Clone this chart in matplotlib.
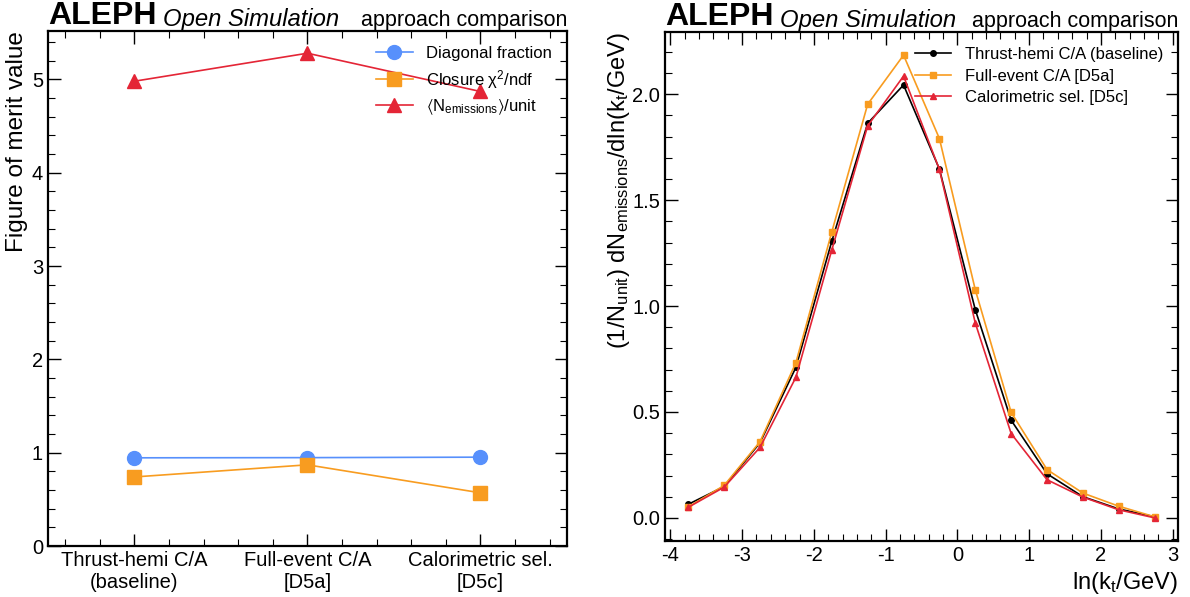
import numpy as np
import matplotlib
matplotlib.use("Agg")
import matplotlib.pyplot as plt
from matplotlib.ticker import MultipleLocator

plt.rcParams['font.family'] = ['Liberation Sans', 'DejaVu Sans']
plt.rcParams['mathtext.fontset'] = 'custom'
plt.rcParams['mathtext.rm'] = 'Liberation Sans'
plt.rcParams['mathtext.it'] = 'Liberation Sans:italic'
plt.rcParams['mathtext.default'] = 'regular'
plt.rcParams['axes.unicode_minus'] = False

# left panel: figures of merit per approach
approaches = ["Thrust-hemi C/A\n(baseline)", "Full-event C/A\n[D5a]", "Calorimetric sel.\n[D5c]"]
diag_frac = [0.945, 0.947, 0.952]
closure_chi2 = [0.74, 0.87, 0.57]
n_emissions = [4.98, 5.28, 4.87]

# right panel: ln(kt) spectra
lnkt = [-3.75, -3.25, -2.75, -2.25, -1.75, -1.25, -0.75, -0.25, 0.25, 0.75, 1.25, 1.75, 2.25, 2.75]
baseline = [0.064, 0.148, 0.355, 0.711, 1.306, 1.863, 2.044, 1.647, 0.983, 0.461, 0.208, 0.100, 0.042, 0.005]
full_event = [0.052, 0.153, 0.360, 0.733, 1.350, 1.953, 2.185, 1.791, 1.077, 0.498, 0.228, 0.117, 0.055, 0.005]
calo_sel = [0.050, 0.145, 0.333, 0.664, 1.265, 1.851, 2.086, 1.645, 0.920, 0.398, 0.180, 0.098, 0.038, 0.000]

BLUE = "#5790fc"
ORANGE = "#f89c20"
RED = "#e42536"


def style_axes(ax):
    for s in ax.spines.values():
        s.set_linewidth(1.6)
    ax.tick_params(which='both', direction='in', top=True, right=True, labelsize=14.5)
    ax.tick_params(which='major', length=9, width=1.0)
    ax.tick_params(which='minor', length=5, width=0.8)


def header(ax):
    t = ax.text(0.0, 1.0, "ALEPH", transform=ax.transAxes, fontsize=23,
                fontweight='bold', ha='left', va='bottom')
    ax.annotate("Open Simulation", xy=(1, 0), xycoords=t, xytext=(5, 0),
                textcoords='offset points', fontsize=17.2, style='italic',
                ha='left', va='bottom')
    ax.text(1.0, 1.0, "approach comparison", transform=ax.transAxes,
            fontsize=15.5, ha='right', va='bottom')


def main():
    fig = plt.figure(figsize=(11.9, 5.97), dpi=100)
    ax1 = fig.add_axes([0.0403, 0.0854, 0.4361, 0.8626])
    ax2 = fig.add_axes([0.5588, 0.0938, 0.4311, 0.8526])

    x = np.arange(len(approaches))
    ax1.plot(x, diag_frac, '-o', color=BLUE, ms=10, lw=1.2, label="Diagonal fraction")
    ax1.plot(x, closure_chi2, '-s', color=ORANGE, ms=10, lw=1.2, label=r"Closure $\chi^2$/ndf")
    ax1.plot(x, n_emissions, '-^', color=RED, ms=10, lw=1.2,
             label=r"$\langle N_{emissions}\rangle$/unit")
    ax1.set_xticks(x)
    ax1.set_xticklabels(approaches)
    ax1.set_xlim(-0.5, 2.5)
    ax1.set_ylim(0, max(n_emissions) * 1.045)
    ax1.xaxis.set_minor_locator(MultipleLocator(0.2))
    ax1.yaxis.set_minor_locator(MultipleLocator(0.2))
    ax1.set_ylabel("Figure of merit value", fontsize=17.5, loc='top')
    ax1.yaxis.set_label_coords(-0.038, 1.0)
    style_axes(ax1)
    ax1.legend(loc='upper right', frameon=False, fontsize=12, handlelength=2.2,
               borderaxespad=0.5, labelspacing=0.4)
    header(ax1)

    ax2.plot(lnkt, baseline, '-o', color='black', ms=4, lw=1.2, label="Thrust-hemi C/A (baseline)")
    ax2.plot(lnkt, full_event, '-s', color=ORANGE, ms=4, lw=1.2, label="Full-event C/A [D5a]")
    ax2.plot(lnkt, calo_sel, '-^', color=RED, ms=4, lw=1.2, label="Calorimetric sel. [D5c]")
    ax2.margins(x=0.05, y=0.05)
    ax2.xaxis.set_major_locator(MultipleLocator(1))
    ax2.xaxis.set_minor_locator(MultipleLocator(0.2))
    ax2.yaxis.set_major_locator(MultipleLocator(0.5))
    ax2.yaxis.set_minor_locator(MultipleLocator(0.1))
    ax2.set_xlabel(r"ln($k_t$/GeV)", fontsize=17, loc='right')
    ax2.set_ylabel(r"(1/$N_{unit}$) d$N_{emissions}$/dln($k_t$/GeV)", fontsize=17, loc='top')
    ax2.yaxis.set_label_coords(-0.064, 1.0)
    style_axes(ax2)
    ax2.legend(loc='upper right', frameon=False, fontsize=12, handlelength=2.2,
               borderaxespad=0.5, labelspacing=0.4)
    header(ax2)

    fig.savefig("out.png", dpi=100)


if __name__ == "__main__":
    main()
